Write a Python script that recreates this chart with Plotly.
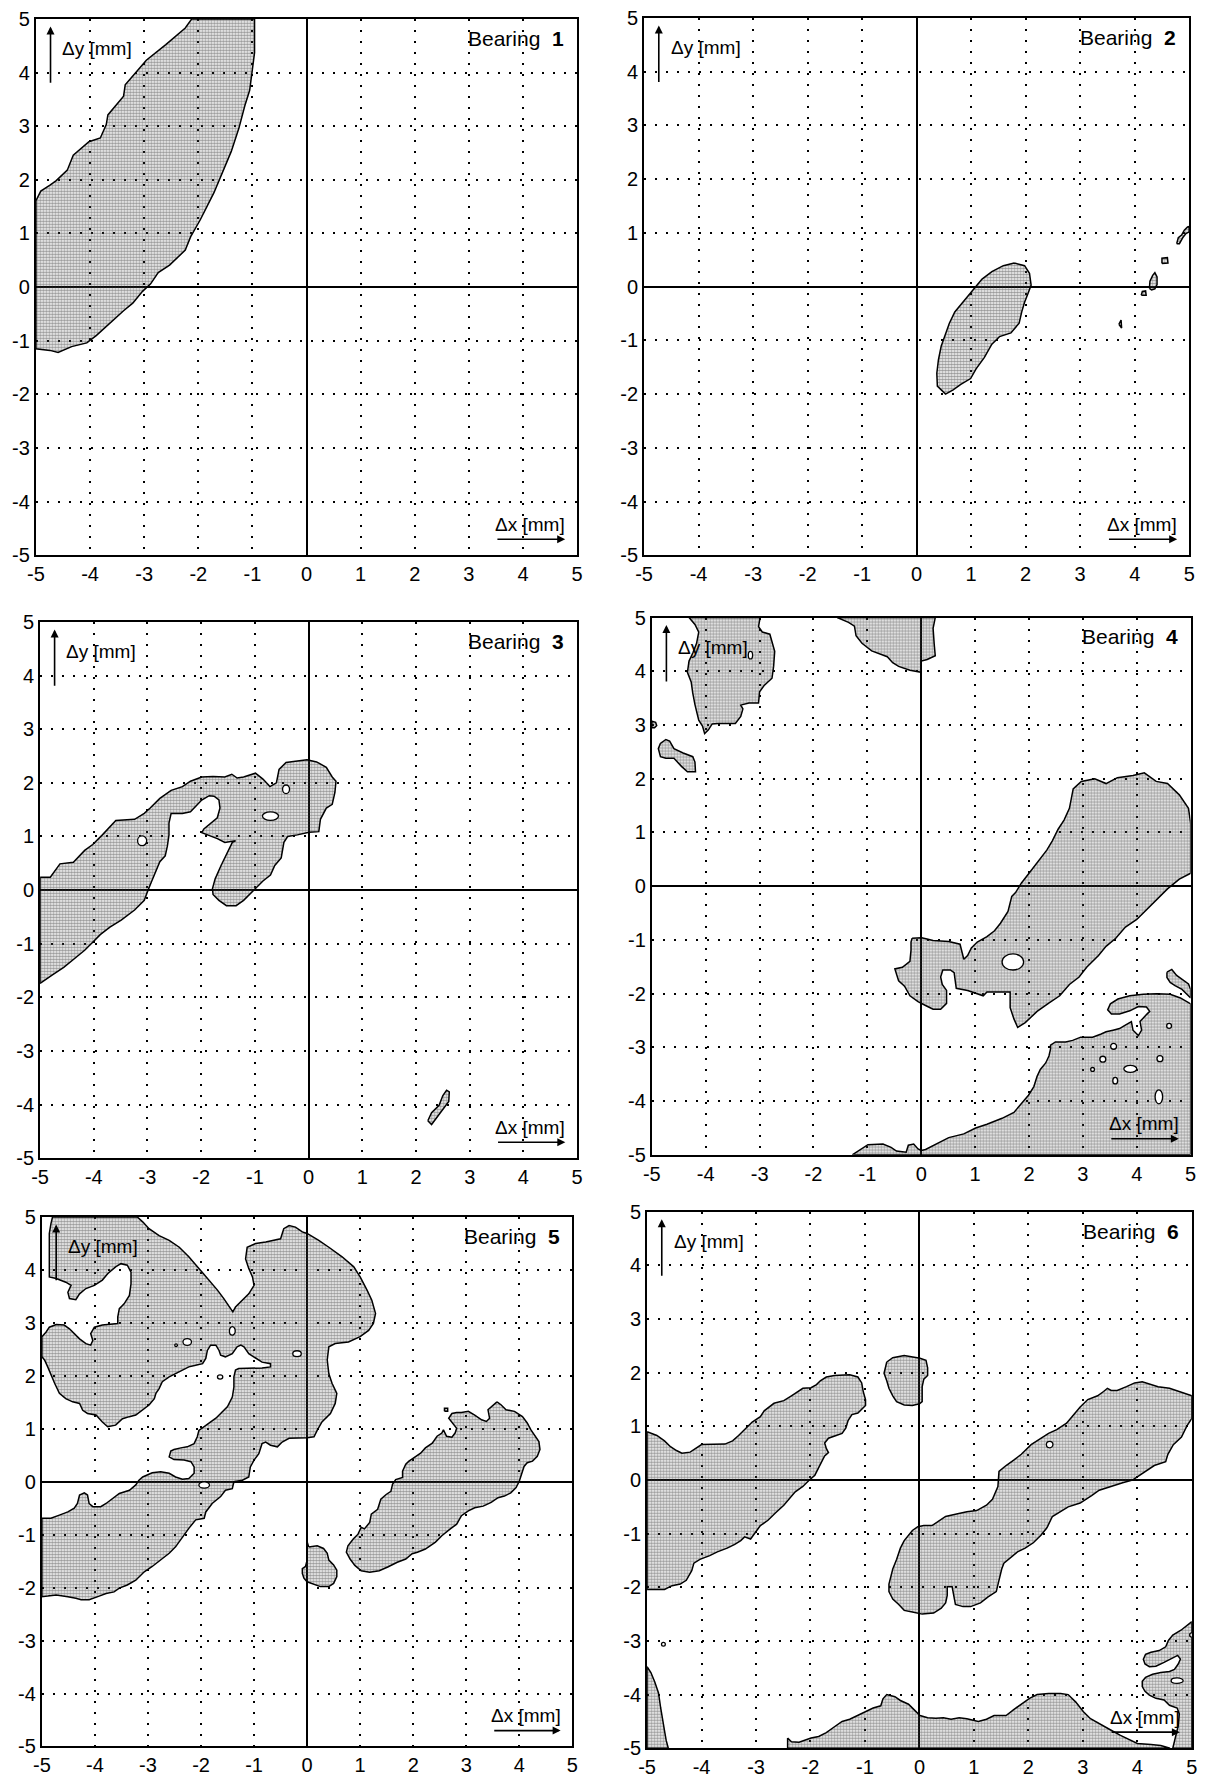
import plotly.graph_objects as go

FONT = "Arial, 'Liberation Sans', sans-serif"

TICK_VALUES = [-5, -4, -3, -2, -1, 0, 1, 2, 3, 4, 5]
TICK_LABELS = ["-5", "-4", "-3", "-2", "-1", "0", "1", "2", "3", "4", "5"]

# ---------------- Bearing 1 ----------------
B1_ZONE = [(-5.00, 1.61), (-4.91, 1.79), (-4.74, 1.90), (-4.63, 1.98), (-4.42, 2.18), (-4.31, 2.46),
           (-4.02, 2.71), (-3.81, 2.78), (-3.70, 3.03), (-3.67, 3.21), (-3.38, 3.56), (-3.35, 3.77),
           (-3.17, 3.98), (-2.96, 4.23), (-2.60, 4.52), (-2.49, 4.62), (-2.24, 4.83), (-2.12, 5.00),
           (-0.96, 5.00), (-0.96, 4.37), (-1.00, 4.02), (-1.05, 3.67), (-1.14, 3.38), (-1.25, 2.96),
           (-1.39, 2.53), (-1.53, 2.18), (-1.71, 1.76), (-1.96, 1.26), (-2.14, 0.94), (-2.24, 0.69),
           (-2.53, 0.41), (-2.74, 0.27), (-2.88, 0.06), (-3.03, -0.08), (-3.21, -0.30), (-3.38, -0.44),
           (-3.60, -0.65), (-3.88, -0.90), (-4.06, -1.04), (-4.34, -1.11), (-4.59, -1.22), (-4.74, -1.18),
           (-5.00, -1.15)]

# ---------------- Bearing 2 ----------------
B2_ZONE = [(1.79, 0.44), (1.98, 0.39), (2.07, 0.25), (2.10, 0.03), (2.05, -0.11), (1.98, -0.29),
           (1.93, -0.46), (1.88, -0.68), (1.73, -0.86), (1.52, -0.93), (1.38, -1.07), (1.24, -1.32),
           (1.09, -1.53), (0.99, -1.71), (0.81, -1.82), (0.67, -1.92), (0.53, -2.00), (0.38, -1.85),
           (0.37, -1.61), (0.40, -1.36), (0.45, -1.11), (0.53, -0.89), (0.60, -0.68), (0.70, -0.47),
           (0.88, -0.25), (1.02, -0.07), (1.20, 0.14), (1.38, 0.28), (1.59, 0.39)]
B2_ISLE_A = [(4.77, 0.80), (4.80, 0.91), (4.86, 0.96), (4.91, 1.05), (4.97, 1.11), (5.00, 1.12),
             (5.00, 1.02), (4.94, 0.99), (4.88, 0.91), (4.82, 0.80)]
B2_ISLE_B = [(4.50, 0.43), (4.50, 0.53), (4.60, 0.54), (4.61, 0.44)]
B2_ISLE_C = [(4.27, -0.03), (4.28, 0.10), (4.33, 0.21), (4.37, 0.26), (4.41, 0.18), (4.41, 0.04),
             (4.37, -0.04), (4.31, -0.06)]
B2_ISLE_D = [(4.12, -0.16), (4.14, -0.09), (4.20, -0.08), (4.21, -0.16)]
B2_ISLE_E = [(3.71, -0.70), (3.75, -0.62), (3.76, -0.77)]

# ---------------- Bearing 3 ----------------
B3_ZONE = [(-5.00, 0.24), (-4.81, 0.24), (-4.63, 0.49), (-4.38, 0.52), (-4.17, 0.74), (-4.02, 0.85),
           (-3.84, 1.03), (-3.59, 1.30), (-3.24, 1.32), (-3.06, 1.43), (-2.95, 1.53), (-2.77, 1.71),
           (-2.56, 1.86), (-2.35, 1.93), (-2.20, 2.03), (-1.99, 2.11), (-1.78, 2.12), (-1.56, 2.11),
           (-1.43, 2.16), (-1.33, 2.09), (-1.21, 2.11), (-0.99, 2.18), (-0.85, 2.07), (-0.72, 1.93),
           (-0.60, 2.00), (-0.55, 2.25), (-0.42, 2.38), (-0.21, 2.41), (-0.03, 2.43), (0.15, 2.39),
           (0.33, 2.29), (0.44, 2.11), (0.51, 2.03), (0.49, 1.82), (0.44, 1.60), (0.33, 1.53),
           (0.28, 1.43), (0.22, 1.32), (0.19, 1.09), (0.01, 1.08), (-0.21, 1.03), (-0.39, 1.00),
           (-0.46, 0.89), (-0.51, 0.60), (-0.63, 0.46), (-0.71, 0.28), (-0.85, 0.17), (-0.99, 0.03),
           (-1.06, -0.04), (-1.21, -0.19), (-1.35, -0.29), (-1.53, -0.29), (-1.67, -0.19), (-1.78, -0.08),
           (-1.79, 0.03), (-1.74, 0.21), (-1.63, 0.46), (-1.56, 0.60), (-1.49, 0.74), (-1.42, 0.89),
           (-1.36, 0.92), (-1.56, 0.89), (-1.70, 0.96), (-1.88, 1.03), (-1.99, 1.07), (-1.95, 1.14),
           (-1.81, 1.25), (-1.70, 1.35), (-1.65, 1.53), (-1.67, 1.68), (-1.76, 1.75), (-1.85, 1.76),
           (-1.99, 1.68), (-2.10, 1.57), (-2.20, 1.46), (-2.35, 1.43), (-2.56, 1.43), (-2.60, 1.25),
           (-2.60, 1.03), (-2.63, 0.82), (-2.67, 0.64), (-2.77, 0.53), (-2.85, 0.35), (-2.92, 0.17),
           (-2.99, 0.00), (-3.06, -0.19), (-3.24, -0.37), (-3.49, -0.56), (-3.70, -0.69), (-3.88, -0.83),
           (-4.02, -0.97), (-4.17, -1.12), (-4.34, -1.26), (-4.56, -1.44), (-4.77, -1.58), (-5.00, -1.74)]
B3_ISLE = [(2.22, -4.30), (2.29, -4.15), (2.43, -4.01), (2.50, -3.83), (2.57, -3.73), (2.62, -3.76),
           (2.61, -3.94), (2.50, -4.09), (2.39, -4.23), (2.29, -4.37)]
# holes: centre x, centre y, width, height
B3_HOLES = [(-3.10, 0.92, 0.17, 0.18), (-0.71, 1.38, 0.30, 0.16), (-0.42, 1.88, 0.13, 0.16)]

# ---------------- Bearing 4 ----------------
B4_NORTHWEST = [(-4.31, 5.00), (-4.20, 4.87), (-4.13, 4.73), (-4.17, 4.52), (-4.24, 4.34), (-4.31, 4.19),
                (-4.34, 3.98), (-4.27, 3.80), (-4.24, 3.59), (-4.20, 3.38), (-4.13, 3.09), (-4.06, 2.98),
                (-4.02, 2.84), (-3.95, 2.91), (-3.88, 3.02), (-3.77, 3.03), (-3.45, 3.03), (-3.35, 3.16),
                (-3.31, 3.30), (-3.35, 3.37), (-3.20, 3.41), (-3.02, 3.41), (-3.00, 3.62), (-2.92, 3.73),
                (-2.77, 3.87), (-2.74, 4.09), (-2.72, 4.37), (-2.77, 4.58), (-2.81, 4.69), (-2.95, 4.73),
                (-3.02, 4.83), (-2.99, 5.00)]
B4_NORTH = [(-1.56, 5.00), (-1.35, 4.91), (-1.24, 4.84), (-1.21, 4.66), (-1.10, 4.52), (-0.92, 4.38),
            (-0.63, 4.27), (-0.53, 4.16), (-0.42, 4.09), (-0.21, 4.02), (0.00, 3.98), (0.00, 4.19),
            (0.11, 4.22), (0.26, 4.29), (0.24, 4.51), (0.22, 4.80), (0.26, 5.00)]
B4_WEST = [(-4.84, 2.66), (-4.74, 2.73), (-4.67, 2.70), (-4.59, 2.56), (-4.42, 2.48), (-4.24, 2.41),
           (-4.20, 2.31), (-4.19, 2.13), (-4.34, 2.13), (-4.45, 2.23), (-4.59, 2.38), (-4.74, 2.38),
           (-4.84, 2.41), (-4.88, 2.56)]
B4_EDGE = [(-5.00, 3.07), (-4.93, 3.05), (-4.91, 2.99), (-4.95, 2.95), (-5.00, 2.95)]
B4_BAND = [(-0.17, -0.97), (0.01, -0.96), (0.22, -1.01), (0.51, -1.03), (0.72, -1.08), (0.76, -1.22),
           (0.79, -1.36), (0.86, -1.29), (0.93, -1.15), (1.04, -1.04), (1.22, -0.94), (1.36, -0.83),
           (1.47, -0.69), (1.61, -0.47), (1.68, -0.19), (1.75, -0.12), (1.86, 0.06), (2.00, 0.24),
           (2.11, 0.38), (2.22, 0.52), (2.33, 0.67), (2.43, 0.84), (2.54, 1.06), (2.65, 1.23),
           (2.75, 1.45), (2.82, 1.81), (2.97, 1.95), (3.22, 2.00), (3.43, 1.91), (3.64, 2.02),
           (3.93, 2.06), (4.14, 2.11), (4.36, 1.95), (4.57, 1.91), (4.79, 1.70), (4.96, 1.45),
           (5.00, 1.17), (5.00, 0.24), (4.79, 0.13), (4.57, -0.05), (4.36, -0.26), (4.14, -0.47),
           (4.00, -0.62), (3.79, -0.76), (3.61, -0.97), (3.43, -1.12), (3.29, -1.29), (3.07, -1.51),
           (2.93, -1.69), (2.75, -1.83), (2.57, -2.04), (2.36, -2.18), (2.15, -2.33), (1.93, -2.54),
           (1.79, -2.63), (1.72, -2.47), (1.65, -2.26), (1.65, -1.97), (1.22, -1.97), (1.15, -2.04),
           (0.86, -1.94), (0.65, -1.90), (0.61, -1.61), (0.54, -1.56), (0.40, -1.56), (0.36, -1.69),
           (0.39, -1.83), (0.47, -1.94), (0.47, -2.18), (0.36, -2.29), (0.22, -2.29), (0.08, -2.22),
           (-0.06, -2.15), (-0.21, -2.04), (-0.31, -1.86), (-0.42, -1.76), (-0.46, -1.61), (-0.49, -1.54),
           (-0.35, -1.51), (-0.21, -1.40), (-0.19, -1.19), (-0.19, -1.04)]
B4_SOUTH = [(-1.28, -5.00), (-1.17, -4.93), (-0.99, -4.81), (-0.71, -4.80), (-0.56, -4.86), (-0.46, -4.93),
            (-0.28, -4.95), (-0.24, -4.82), (-0.14, -4.80), (-0.06, -4.89), (0.00, -4.92), (0.08, -4.90),
            (0.29, -4.79), (0.51, -4.68), (0.79, -4.61), (1.01, -4.50), (1.22, -4.43), (1.50, -4.32),
            (1.72, -4.21), (1.87, -4.02), (1.99, -3.89), (2.09, -3.73), (2.15, -3.54), (2.21, -3.41),
            (2.31, -3.29), (2.37, -3.16), (2.40, -3.03), (2.40, -2.96), (2.49, -2.90), (2.68, -2.90),
            (2.81, -2.87), (2.96, -2.81), (3.18, -2.81), (3.34, -2.75), (3.43, -2.71), (3.56, -2.68),
            (3.68, -2.65), (3.78, -2.59), (3.90, -2.52), (3.93, -2.68), (4.03, -2.78), (4.09, -2.68),
            (4.06, -2.52), (4.18, -2.39), (4.24, -2.33), (4.18, -2.25), (4.03, -2.24), (3.87, -2.32),
            (3.68, -2.38), (3.53, -2.38), (3.46, -2.30), (3.51, -2.19), (3.65, -2.10), (3.87, -2.04),
            (4.12, -2.01), (4.37, -2.00), (4.62, -2.01), (4.81, -2.08), (4.93, -2.14), (5.00, -2.19),
            (5.00, -5.00)]
B4_ARM = [(4.56, -1.60), (4.65, -1.55), (4.74, -1.66), (4.87, -1.75), (4.96, -1.82), (5.00, -1.92),
          (5.00, -2.08), (4.93, -2.01), (4.84, -1.92), (4.71, -1.85), (4.62, -1.79), (4.56, -1.70)]
B4_HOLES = [(-3.17, 4.30, 0.08, 0.14), (1.70, -1.41, 0.40, 0.30),
            (4.60, -2.60, 0.09, 0.09), (3.57, -2.98, 0.11, 0.11), (3.37, -3.22, 0.11, 0.11),
            (3.18, -3.41, 0.07, 0.07), (4.43, -3.21, 0.11, 0.11), (3.88, -3.40, 0.24, 0.13),
            (3.60, -3.62, 0.09, 0.12), (4.41, -3.92, 0.14, 0.26)]

# ---------------- Bearing 5 ----------------
B5_ZONE = [(-4.80, 5.00), (-3.20, 5.00), (-3.10, 4.91), (-2.98, 4.78), (-2.79, 4.65), (-2.60, 4.56),
           (-2.41, 4.43), (-2.23, 4.25), (-2.04, 4.03), (-1.85, 3.81), (-1.69, 3.62), (-1.57, 3.46),
           (-1.47, 3.30), (-1.40, 3.21), (-1.35, 3.30), (-1.22, 3.43), (-1.10, 3.55), (-1.00, 3.71),
           (-1.03, 3.87), (-1.10, 4.03), (-1.16, 4.21), (-1.13, 4.43), (-0.97, 4.50), (-0.78, 4.53),
           (-0.50, 4.59), (-0.44, 4.78), (-0.34, 4.84), (-0.22, 4.81), (-0.09, 4.72), (0.00, 4.69),
           (0.22, 4.56), (0.41, 4.43), (0.66, 4.25), (0.88, 4.06), (1.00, 3.87), (1.13, 3.62),
           (1.22, 3.43), (1.29, 3.18), (1.25, 2.99), (1.16, 2.86), (1.00, 2.74), (0.78, 2.64),
           (0.53, 2.61), (0.41, 2.55), (0.38, 2.30), (0.41, 2.04), (0.47, 1.86), (0.56, 1.67),
           (0.53, 1.48), (0.44, 1.29), (0.34, 1.20), (0.28, 1.13), (0.19, 0.97), (0.13, 0.85),
           (0.00, 0.83), (-0.34, 0.82), (-0.47, 0.75), (-0.56, 0.66), (-0.69, 0.69), (-0.78, 0.75),
           (-0.85, 0.72), (-0.91, 0.53), (-1.00, 0.41), (-1.07, 0.28), (-1.10, 0.09), (-1.22, 0.03),
           (-1.38, 0.00), (-1.41, -0.13), (-1.54, -0.16), (-1.63, -0.28), (-1.79, -0.41), (-1.91, -0.57),
           (-1.94, -0.69), (-2.10, -0.72), (-2.23, -0.88), (-2.35, -1.04), (-2.48, -1.23), (-2.60, -1.35),
           (-2.76, -1.48), (-2.92, -1.60), (-3.07, -1.70), (-3.23, -1.86), (-3.39, -1.95), (-3.54, -2.01),
           (-3.64, -2.08), (-3.79, -2.11), (-3.92, -2.16), (-4.01, -2.20), (-4.11, -2.23), (-4.26, -2.23),
           (-4.36, -2.20), (-4.51, -2.17), (-4.73, -2.14), (-4.89, -2.16), (-5.00, -2.17), (-5.00, -0.69),
           (-4.83, -0.69), (-4.67, -0.63), (-4.51, -0.57), (-4.39, -0.50), (-4.33, -0.41), (-4.29, -0.25),
           (-4.20, -0.21), (-4.14, -0.25), (-4.11, -0.41), (-4.04, -0.47), (-3.89, -0.47), (-3.79, -0.41),
           (-3.67, -0.31), (-3.54, -0.22), (-3.35, -0.16), (-3.23, -0.06), (-3.17, 0.03), (-3.10, 0.09),
           (-2.92, 0.17), (-2.76, 0.19), (-2.60, 0.16), (-2.48, 0.09), (-2.35, 0.05), (-2.23, 0.06),
           (-2.13, 0.16), (-2.13, 0.28), (-2.19, 0.38), (-2.32, 0.41), (-2.51, 0.42), (-2.60, 0.47),
           (-2.57, 0.58), (-2.51, 0.61), (-2.38, 0.64), (-2.26, 0.66), (-2.13, 0.72), (-2.07, 0.85),
           (-2.04, 0.97), (-1.94, 1.04), (-1.82, 1.13), (-1.72, 1.20), (-1.63, 1.29), (-1.50, 1.42),
           (-1.41, 1.60), (-1.38, 1.79), (-1.38, 1.98), (-1.35, 2.11), (-1.29, 2.14), (-1.03, 2.14),
           (-0.85, 2.15), (-0.69, 2.17), (-0.69, 2.23), (-0.85, 2.26), (-0.97, 2.33), (-1.10, 2.42),
           (-1.19, 2.55), (-1.25, 2.58), (-1.32, 2.55), (-1.41, 2.42), (-1.54, 2.36), (-1.63, 2.39),
           (-1.66, 2.48), (-1.72, 2.58), (-1.82, 2.58), (-1.88, 2.48), (-1.91, 2.33), (-1.97, 2.23),
           (-2.10, 2.20), (-2.23, 2.17), (-2.35, 2.11), (-2.48, 2.04), (-2.60, 1.98), (-2.73, 1.89),
           (-2.79, 1.76), (-2.85, 1.67), (-2.88, 1.57), (-2.98, 1.45), (-3.10, 1.35), (-3.23, 1.26),
           (-3.35, 1.23), (-3.48, 1.19), (-3.61, 1.07), (-3.76, 1.04), (-3.86, 1.13), (-3.98, 1.26),
           (-4.14, 1.29), (-4.23, 1.35), (-4.29, 1.48), (-4.42, 1.51), (-4.55, 1.57), (-4.67, 1.67),
           (-4.76, 1.86), (-4.83, 2.04), (-4.89, 2.17), (-4.95, 2.30), (-5.00, 2.36), (-5.00, 2.74),
           (-4.92, 2.83), (-4.86, 2.92), (-4.73, 2.97), (-4.58, 2.96), (-4.48, 2.89), (-4.29, 2.70),
           (-4.17, 2.61), (-4.08, 2.58), (-4.04, 2.67), (-4.08, 2.80), (-4.01, 2.92), (-3.86, 2.96),
           (-3.57, 2.99), (-3.57, 3.11), (-3.54, 3.27), (-3.45, 3.36), (-3.35, 3.52), (-3.32, 3.74),
           (-3.32, 3.96), (-3.39, 4.09), (-3.51, 4.12), (-3.61, 4.06), (-3.76, 3.93), (-3.86, 3.81),
           (-4.01, 3.71), (-4.17, 3.65), (-4.29, 3.55), (-4.36, 3.44), (-4.48, 3.46), (-4.51, 3.58),
           (-4.45, 3.71), (-4.55, 3.77), (-4.73, 3.84), (-4.86, 3.87), (-4.86, 4.69), (-4.83, 4.87)]
B5_KNOB = [(0.03, -1.23), (0.19, -1.21), (0.31, -1.26), (0.38, -1.35), (0.41, -1.48), (0.50, -1.57),
           (0.56, -1.67), (0.56, -1.79), (0.50, -1.92), (0.41, -1.98), (0.25, -1.98), (0.16, -1.95),
           (0.06, -1.92), (0.00, -1.89), (-0.06, -1.82), (-0.09, -1.73), (-0.09, -1.64), (-0.03, -1.60),
           (0.00, -1.48), (0.00, -1.13)]
B5_BAND = [(3.58, 1.51), (3.66, 1.45), (3.75, 1.36), (3.91, 1.33), (4.06, 1.23), (4.15, 1.11),
           (4.22, 0.98), (4.31, 0.86), (4.37, 0.76), (4.39, 0.61), (4.34, 0.48), (4.25, 0.39),
           (4.15, 0.36), (4.09, 0.29), (4.04, 0.14), (4.00, 0.01), (3.94, -0.11), (3.84, -0.21),
           (3.72, -0.27), (3.60, -0.30), (3.47, -0.39), (3.32, -0.46), (3.16, -0.49), (3.04, -0.55),
           (2.91, -0.64), (2.82, -0.80), (2.70, -0.89), (2.54, -1.02), (2.42, -1.14), (2.23, -1.27),
           (2.08, -1.33), (1.98, -1.36), (1.86, -1.46), (1.70, -1.52), (1.52, -1.61), (1.36, -1.68),
           (1.18, -1.71), (1.02, -1.68), (0.90, -1.58), (0.81, -1.46), (0.74, -1.33), (0.77, -1.21),
           (0.87, -1.08), (0.96, -0.99), (1.02, -0.86), (1.08, -0.89), (1.18, -0.77), (1.21, -0.61),
           (1.33, -0.52), (1.39, -0.33), (1.49, -0.24), (1.58, -0.18), (1.61, -0.05), (1.67, 0.04),
           (1.80, 0.08), (1.80, 0.20), (1.86, 0.33), (1.92, 0.39), (2.01, 0.45), (2.14, 0.54),
           (2.23, 0.64), (2.36, 0.73), (2.45, 0.86), (2.54, 0.92), (2.57, 0.98), (2.63, 0.86),
           (2.73, 0.84), (2.79, 0.92), (2.82, 1.01), (2.76, 1.08), (2.67, 1.20), (2.73, 1.29),
           (2.82, 1.31), (2.91, 1.31), (3.04, 1.33), (3.16, 1.26), (3.29, 1.17), (3.38, 1.14),
           (3.44, 1.20), (3.41, 1.36), (3.47, 1.42)]
B5_SPECK = [(2.59, 1.33), (2.59, 1.39), (2.65, 1.39), (2.65, 1.33)]
B5_HOLES = [(-1.41, 2.85, 0.11, 0.16), (-2.26, 2.64, 0.16, 0.13), (-2.47, 2.58, 0.05, 0.05),
            (-1.64, 1.98, 0.10, 0.08), (-0.19, 2.42, 0.16, 0.11), (-1.94, -0.06, 0.20, 0.12)]

# ---------------- Bearing 6 ----------------
B6_WEST = [(-5.00, 0.90), (-4.82, 0.83), (-4.68, 0.73), (-4.57, 0.62), (-4.46, 0.55), (-4.36, 0.50),
           (-4.21, 0.52), (-4.11, 0.59), (-4.00, 0.66), (-3.57, 0.67), (-3.43, 0.73), (-3.32, 0.83),
           (-3.18, 0.97), (-3.07, 1.08), (-2.92, 1.18), (-2.85, 1.29), (-2.67, 1.43), (-2.49, 1.48),
           (-2.35, 1.57), (-2.24, 1.64), (-2.14, 1.71), (-1.99, 1.72), (-1.89, 1.78), (-1.82, 1.85),
           (-1.71, 1.92), (-1.56, 1.95), (-1.42, 1.95), (-1.28, 1.96), (-1.13, 1.92), (-1.06, 1.81),
           (-1.03, 1.64), (-0.99, 1.50), (-0.99, 1.39), (-1.06, 1.32), (-1.13, 1.25), (-1.24, 1.22),
           (-1.31, 1.11), (-1.35, 0.97), (-1.42, 0.87), (-1.53, 0.83), (-1.67, 0.78), (-1.74, 0.69),
           (-1.71, 0.59), (-1.67, 0.51), (-1.74, 0.45), (-1.78, 0.37), (-1.85, 0.23), (-1.92, 0.09),
           (-2.03, -0.01), (-2.14, -0.12), (-2.28, -0.22), (-2.39, -0.36), (-2.49, -0.47), (-2.64, -0.61),
           (-2.78, -0.75), (-2.92, -0.85), (-3.00, -0.96), (-3.10, -1.10), (-3.21, -1.06), (-3.28, -1.13),
           (-3.39, -1.20), (-3.53, -1.27), (-3.71, -1.34), (-3.85, -1.41), (-4.03, -1.48), (-4.14, -1.55),
           (-4.18, -1.69), (-4.25, -1.80), (-4.28, -1.87), (-4.39, -1.94), (-4.54, -1.97), (-4.68, -2.04),
           (-4.82, -2.04), (-5.00, -2.04)]
B6_KNOB = [(-0.60, 2.20), (-0.49, 2.28), (-0.28, 2.32), (-0.13, 2.30), (0.01, 2.27), (0.12, 2.23),
           (0.15, 2.09), (0.15, 1.95), (0.08, 1.88), (0.05, 1.74), (0.05, 1.60), (0.05, 1.46),
           (0.00, 1.42), (-0.13, 1.39), (-0.28, 1.40), (-0.42, 1.46), (-0.49, 1.57), (-0.56, 1.71),
           (-0.60, 1.85), (-0.65, 1.99)]
B6_BAND = [(-0.56, -1.94), (-0.53, -1.80), (-0.49, -1.66), (-0.42, -1.48), (-0.35, -1.27), (-0.28, -1.13),
           (-0.20, -1.03), (-0.13, -0.94), (-0.03, -0.87), (0.08, -0.85), (0.23, -0.85), (0.37, -0.75),
           (0.48, -0.68), (0.66, -0.64), (0.87, -0.59), (1.05, -0.57), (1.23, -0.47), (1.34, -0.36),
           (1.44, -0.12), (1.46, 0.16), (1.59, 0.27), (1.73, 0.37), (1.87, 0.48), (2.05, 0.66),
           (2.23, 0.78), (2.37, 0.87), (2.52, 0.94), (2.70, 1.06), (2.80, 1.18), (2.95, 1.36),
           (3.09, 1.50), (3.27, 1.57), (3.38, 1.65), (3.45, 1.71), (3.52, 1.67), (3.63, 1.67),
           (3.80, 1.74), (3.95, 1.81), (4.09, 1.83), (4.23, 1.79), (4.38, 1.74), (4.59, 1.71),
           (4.81, 1.64), (5.00, 1.57), (5.00, 1.15), (4.91, 1.01), (4.81, 0.80), (4.66, 0.66),
           (4.56, 0.48), (4.52, 0.34), (4.31, 0.27), (4.09, 0.13), (3.98, 0.06), (3.91, 0.00),
           (3.73, -0.05), (3.52, -0.12), (3.30, -0.19), (3.16, -0.29), (2.95, -0.43), (2.73, -0.50),
           (2.55, -0.61), (2.44, -0.68), (2.34, -0.89), (2.23, -1.03), (2.09, -1.17), (1.94, -1.27),
           (1.80, -1.34), (1.66, -1.45), (1.55, -1.55), (1.51, -1.66), (1.44, -1.94), (1.41, -2.08),
           (1.26, -2.18), (1.12, -2.29), (0.94, -2.36), (0.80, -2.36), (0.66, -2.32), (0.62, -2.08),
           (0.60, -1.99), (0.51, -1.99), (0.51, -2.15), (0.48, -2.29), (0.40, -2.39), (0.26, -2.48),
           (0.05, -2.50), (-0.13, -2.46), (-0.28, -2.43), (-0.38, -2.32), (-0.49, -2.22), (-0.56, -2.08)]
B6_SOUTH = [(-2.42, -4.81), (-2.35, -4.88), (-2.21, -4.89), (-2.10, -4.85), (-1.99, -4.81), (-1.85, -4.78),
            (-1.71, -4.71), (-1.56, -4.60), (-1.42, -4.50), (-1.28, -4.46), (-1.13, -4.39), (-0.99, -4.32),
            (-0.85, -4.25), (-0.71, -4.21), (-0.67, -4.08), (-0.60, -4.00), (-0.45, -4.04), (-0.35, -4.11),
            (-0.20, -4.18), (-0.10, -4.28), (0.01, -4.39), (0.15, -4.43), (0.30, -4.44), (0.44, -4.43),
            (0.58, -4.46), (0.73, -4.43), (0.87, -4.45), (1.08, -4.50), (1.23, -4.46), (1.37, -4.39),
            (1.59, -4.39), (1.73, -4.28), (1.87, -4.18), (2.02, -4.07), (2.16, -4.00), (2.37, -3.98),
            (2.59, -3.98), (2.73, -4.00), (2.87, -4.14), (3.01, -4.32), (3.14, -4.45), (3.32, -4.56),
            (3.51, -4.66), (3.69, -4.76), (3.88, -4.86), (4.00, -4.91), (4.25, -4.93), (4.43, -4.95),
            (4.60, -5.00), (-2.42, -5.00)]
B6_CORNER = [(-5.00, -3.48), (-4.93, -3.59), (-4.86, -3.76), (-4.79, -3.97), (-4.75, -4.25), (-4.72, -4.46),
             (-4.68, -4.67), (-4.65, -4.85), (-4.61, -5.00), (-5.00, -5.00)]
B6_EAST = [(5.00, -2.64), (4.93, -2.70), (4.80, -2.80), (4.65, -2.89), (4.57, -2.99), (4.52, -3.11),
           (4.40, -3.18), (4.25, -3.21), (4.15, -3.25), (4.11, -3.34), (4.14, -3.43), (4.22, -3.48),
           (4.34, -3.47), (4.49, -3.40), (4.65, -3.32), (4.74, -3.27), (4.79, -3.34), (4.75, -3.43),
           (4.68, -3.53), (4.59, -3.57), (4.43, -3.59), (4.28, -3.62), (4.15, -3.68), (4.09, -3.75),
           (4.09, -3.85), (4.14, -3.94), (4.22, -4.01), (4.34, -4.07), (4.49, -4.10), (4.59, -4.20),
           (4.73, -4.25), (4.77, -4.36), (4.75, -4.58), (4.71, -4.77), (4.65, -5.00), (5.00, -5.00)]
B6_HOLES = [(2.39, 0.66, 0.12, 0.12), (4.73, -3.74, 0.22, 0.10), (-4.70, -3.06, 0.07, 0.07),
            (5.00, -2.89, 0.08, 0.08)]

# ---------------- panel layout (paper fractions) ----------------
PANELS = [
    dict(name="1", dx=(0.0225, 0.4750), dy=(0.6895, 0.9955), zones=[B1_ZONE], holes=[]),
    dict(name="2", dx=(0.5310, 0.9868), dy=(0.6895, 0.9960),
         zones=[B2_ZONE, B2_ISLE_A, B2_ISLE_B, B2_ISLE_C, B2_ISLE_D, B2_ISLE_E], holes=[]),
    dict(name="3", dx=(0.0260, 0.4750), dy=(0.3455, 0.6515), zones=[B3_ZONE, B3_ISLE], holes=B3_HOLES),
    dict(name="4", dx=(0.5375, 0.9880), dy=(0.3475, 0.6540),
         zones=[B4_NORTHWEST, B4_NORTH, B4_WEST, B4_EDGE, B4_BAND, B4_SOUTH, B4_ARM], holes=B4_HOLES),
    dict(name="5", dx=(0.0275, 0.4710), dy=(0.0100, 0.3120),
         zones=[B5_ZONE, B5_KNOB, B5_BAND, B5_SPECK], holes=B5_HOLES),
    dict(name="6", dx=(0.5335, 0.9890), dy=(0.0090, 0.3150),
         zones=[B6_WEST, B6_KNOB, B6_BAND, B6_SOUTH, B6_CORNER, B6_EAST], holes=B6_HOLES),
]

STIPPLE = dict(shape=".", size=3, solidity=0.62, fgcolor="#363636", bgcolor="rgba(255,255,255,0)")
OUTLINE = dict(color="black", width=1.5)

fig = go.Figure()
shapes = []
annotations = []
layout = dict(width=1211, height=1778, margin=dict(l=0, r=0, t=0, b=0),
              paper_bgcolor="white", plot_bgcolor="white", showlegend=False,
              font=dict(family=FONT, color="black"))

for i, p in enumerate(PANELS, start=1):
    sfx = "" if i == 1 else str(i)
    xr, yr = "x" + sfx, "y" + sfx
    axis = dict(range=[-5, 5], tickmode="array", tickvals=TICK_VALUES, ticktext=TICK_LABELS,
                showgrid=True, gridcolor="black", gridwidth=2, griddash="2px,9px",
                zeroline=True, zerolinecolor="black", zerolinewidth=1.6,
                showline=True, mirror=True, linecolor="black", linewidth=2,
                ticks="", tickfont=dict(size=20, family=FONT, color="black"), fixedrange=True)
    layout["xaxis" + sfx] = dict(axis, domain=list(p["dx"]), anchor=yr)
    layout["yaxis" + sfx] = dict(axis, domain=list(p["dy"]), anchor=xr)

    for poly in p["zones"]:
        xs = [pt[0] for pt in poly] + [poly[0][0]]
        ys = [pt[1] for pt in poly] + [poly[0][1]]
        fig.add_trace(go.Scatter(x=xs, y=ys, mode="lines", fill="toself",
                                 fillcolor="rgba(255,255,255,0)", fillpattern=STIPPLE,
                                 line=OUTLINE, xaxis=xr, yaxis=yr, hoverinfo="skip"))

    for cx, cy, w, h in p["holes"]:
        shapes.append(dict(type="circle", xref=xr, yref=yr, x0=cx - w / 2, x1=cx + w / 2,
                           y0=cy - h / 2, y1=cy + h / 2, fillcolor="white",
                           line=dict(color="black", width=1.3)))

    # panel title
    annotations.append(dict(xref=xr, yref=yr, x=4.80, y=4.64, xanchor="right", yanchor="middle",
                            text="Bearing  <b>%s</b>" % p["name"], showarrow=False,
                            font=dict(size=21, family=FONT, color="black")))
    # vertical axis caption with arrow
    annotations.append(dict(xref=xr, yref=yr, x=-4.55, y=4.45, xanchor="left", yanchor="middle",
                            text="Δy [mm]", showarrow=False,
                            font=dict(size=19, family=FONT, color="black")))
    annotations.append(dict(xref=xr, yref=yr, x=-4.73, y=4.86, ax=-4.73, ay=3.78,
                            axref=xr, ayref=yr, text="", showarrow=True,
                            arrowhead=2, arrowsize=1, arrowwidth=1.6, arrowcolor="black"))
    # horizontal axis caption with arrow
    annotations.append(dict(xref=xr, yref=yr, x=4.82, y=-4.42, xanchor="right", yanchor="middle",
                            text="Δx [mm]", showarrow=False,
                            font=dict(size=19, family=FONT, color="black")))
    annotations.append(dict(xref=xr, yref=yr, x=4.78, y=-4.70, ax=3.50, ay=-4.70,
                            axref=xr, ayref=yr, text="", showarrow=True,
                            arrowhead=2, arrowsize=1, arrowwidth=1.6, arrowcolor="black"))

layout["shapes"] = shapes
layout["annotations"] = annotations
fig.update_layout(**layout)
fig.write_html("out.html")
